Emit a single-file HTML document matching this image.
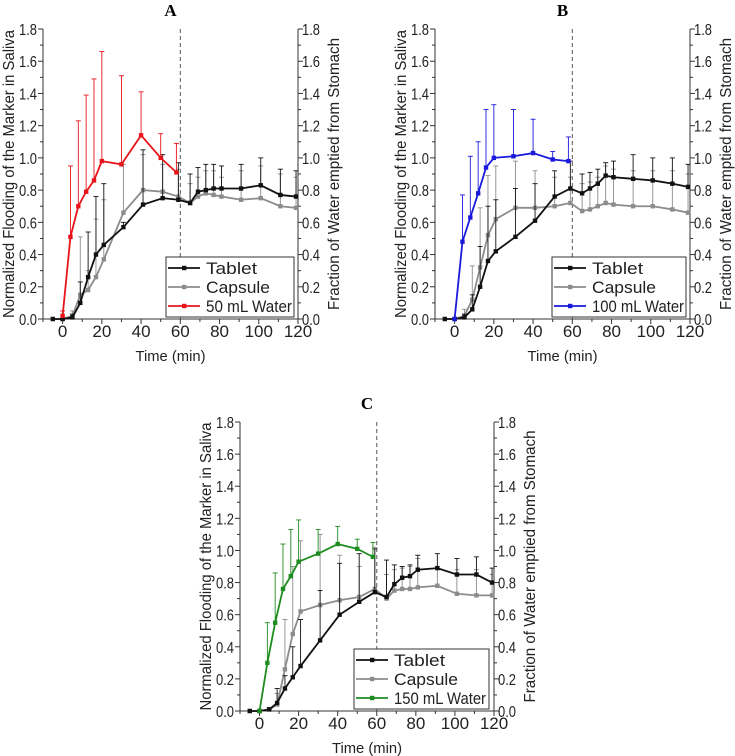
<!DOCTYPE html>
<html><head><meta charset="utf-8"><style>
body{margin:0;background:#fff;width:735px;height:756px;overflow:hidden}
svg{position:absolute;left:0;top:0}
text{font-family:"Liberation Sans",Arial,sans-serif;fill:#222}
.ttl{font-family:"Liberation Serif",serif;font-weight:bold;font-size:17px;fill:#000}
</style></head><body>
<svg id="chart" width="735" height="756"></svg>
<script>
const times=[-5,0,5,9,13,17,21,31,41,51,59,65,69,73,77,81,91,101,111,119];
const waterTimes=[0,4,8,12,16,20,30,40,50,58];
const yTicks=[0,0.2,0.4,0.6,0.8,1.0,1.2,1.4,1.6,1.8];
const xTicks=[0,20,40,60,80,100,120];
// Panel A
const tabletA=[0,0,0.01,0.10,0.26,0.40,0.46,0.57,0.71,0.75,0.74,0.72,0.79,0.80,0.81,0.81,0.81,0.83,0.77,0.76];
const tabletAUp=[0,0,0.03,0.23,0.54,0.76,0.84,0.60,1.05,1.02,0.97,0.90,0.94,0.96,0.96,0.95,0.96,1.0,0.93,0.92];
const capsuleA=[0,0,0.02,0.15,0.18,0.26,0.37,0.66,0.80,0.79,0.76,0.72,0.76,0.78,0.77,0.76,0.74,0.75,0.70,0.69];
const capsuleAUp=[0,0,0.05,0.51,0.30,0.62,0.74,0.96,1.02,0.96,0.93,0.84,0.88,0.92,0.92,0.88,0.92,0.95,0.90,0.88];
const waterA=[0.02,0.51,0.70,0.79,0.86,0.98,0.96,1.14,1.0,0.91];
const waterAUp=[0.05,0.95,1.23,1.39,1.49,1.66,1.51,1.41,1.15,1.09];
// Panel B
const tabletB=[0,0,0.01,0.06,0.20,0.36,0.42,0.51,0.61,0.76,0.81,0.78,0.81,0.84,0.89,0.88,0.87,0.86,0.84,0.82];
const tabletBUp=[0,0,0.03,0.15,0.45,0.70,0.74,0.81,0.84,0.92,0.98,0.90,0.91,0.93,0.97,0.98,1.02,1.0,1.0,0.96];
const capsuleB=[0,0,0.02,0.12,0.32,0.52,0.62,0.69,0.69,0.70,0.72,0.67,0.68,0.70,0.72,0.71,0.70,0.70,0.68,0.66];
const capsuleBUp=[0,0,0.06,0.33,0.69,0.89,0.95,0.98,0.92,0.88,0.88,0.84,0.85,0.88,0.95,0.93,0.92,0.92,0.92,0.90];
const waterB=[0,0.48,0.63,0.78,0.94,1.0,1.01,1.03,0.99,0.98];
const waterBUp=[0,0.77,1.01,1.10,1.30,1.33,1.30,1.24,1.04,1.13];
// Panel C
const tabletC=[0,0,0.01,0.05,0.14,0.21,0.28,0.44,0.60,0.68,0.74,0.71,0.79,0.83,0.84,0.88,0.89,0.85,0.85,0.80];
const tabletCUp=[0,0,0.02,0.14,0.22,0.40,0.57,0.75,0.92,0.98,1.01,0.94,0.91,0.90,0.91,0.97,0.98,0.95,0.96,0.89];
const capsuleC=[0,0,0.01,0.04,0.26,0.48,0.62,0.66,0.69,0.71,0.76,0.70,0.75,0.76,0.76,0.77,0.78,0.73,0.72,0.72];
const capsuleCUp=[0,0,0.02,0.11,0.57,0.90,1.06,1.10,0.97,0.90,1.02,0.85,0.88,0.89,0.90,0.95,0.90,0.88,0.88,0.85];
const waterC=[0,0.30,0.55,0.76,0.84,0.93,0.98,1.04,1.01,0.96];
const waterCUp=[0,0.55,0.86,1.04,1.13,1.19,1.13,1.15,1.07,1.05];

const NS='http://www.w3.org/2000/svg';
const svg=document.getElementById('chart');
function mk(tag,attrs,parent){const e=document.createElementNS(NS,tag);for(const k in attrs)e.setAttribute(k,attrs[k]);(parent||svg).appendChild(e);return e;}

function panel(p){
  const g=mk('g',{});
  
  
  const X=t=>p.L+(t+10)/130*(p.R-p.L);
  const Y=v=>p.B-v/1.8*(p.B-p.T);
  const t=mk('text',{x:(p.L+p.R)/2,y:p.T-13,'text-anchor':'middle',class:'ttl'},g);t.textContent=p.id;
  
  
  const ax=mk('path',{d:`M${p.L},${p.T}V${p.B}H${p.R}V${p.T}`,fill:'none',stroke:'#333','stroke-width':1},g);
  
  
  for(let i=0;i<=18;i++){const v=i/10,y=Y(v),len=i%2==0?5:3;
    mk('line',{x1:p.L-len,x2:p.L,y1:y,y2:y,stroke:'#333'},g);
    mk('line',{x1:p.R,x2:p.R+len,y1:y,y2:y,stroke:'#333'},g);}
  yTicks.forEach(v=>{const y=Y(v);
    const a=mk('text',{x:p.L-24,y:y+6,'font-size':'16px',textLength:18,lengthAdjust:'spacingAndGlyphs'},g);a.textContent=v.toFixed(1);
    
    
    const b=mk('text',{x:p.R+4,y:y+6,'font-size':'16px',textLength:18,lengthAdjust:'spacingAndGlyphs'},g);b.textContent=v.toFixed(1);
    
    });
  for(let tt=-10;tt<=120;tt+=10){const x=X(tt);mk('line',{x1:x,x2:x,y1:p.B,y2:p.B+(tt%20==0?5:3),stroke:'#333'},g);}
  xTicks.forEach(tt=>{const a=mk('text',{x:X(tt),y:p.B+18,'text-anchor':'middle','font-size':'17px'},g);a.textContent=tt;
    
    });
  const xl=mk('text',{x:(p.L+p.R)/2,y:p.B+42,'text-anchor':'middle','font-size':'15px',textLength:70,lengthAdjust:'spacingAndGlyphs'},g);xl.textContent='Time (min)';
  
  
  const cy=(p.T+p.B)/2;
  const yl=mk('text',{x:0,y:0,'text-anchor':'middle','font-size':'15.5px',textLength:288,lengthAdjust:'spacingAndGlyphs',transform:`translate(${p.L-29},${cy}) rotate(-90)`},g);yl.textContent='Normalized Flooding of the Marker in Saliva';
  
  
  const yr=mk('text',{x:0,y:0,'text-anchor':'middle','font-size':'15.5px',textLength:272,lengthAdjust:'spacingAndGlyphs',transform:`translate(${p.R+41},${cy}) rotate(-90)`},g);yr.textContent='Fraction of Water emptied from Stomach';
  
  
  const dl=mk('line',{x1:X(60),x2:X(60),y1:p.T,y2:p.B,stroke:'#555','stroke-dasharray':'4,3'},g);
  
  
  function series(ts,vals,ups,col,name){
    const sg=mk('g',{},g);
    
    
    ts.forEach((tt,i)=>{if(ups[i]>vals[i]){const x=X(tt);
      mk('line',{x1:x,x2:x,y1:Y(vals[i]),y2:Y(ups[i]),stroke:col,'stroke-width':0.9},sg);
      mk('line',{x1:x-2.5,x2:x+2.5,y1:Y(ups[i]),y2:Y(ups[i]),stroke:col,'stroke-width':0.9},sg);}});
    mk('polyline',{points:ts.map((tt,i)=>X(tt)+','+Y(vals[i])).join(' '),fill:'none',stroke:col,'stroke-width':1.8},sg);
    ts.forEach((tt,i)=>{const r=mk('rect',{x:X(tt)-2.2,y:Y(vals[i])-2.2,width:4.4,height:4.4,fill:col},sg);
      
      });
  }
  series(times,p.cap,p.capUp,'#8c8c8c','capsule-series');
  series(times,p.tab,p.tabUp,'#111','tablet-series');
  series(waterTimes,p.w,p.wUp,p.wc,'water-series');
  const lg=mk('g',{},g);
  
  
  mk('rect',{x:p.lx,y:p.ly,width:p.lw,height:60,fill:'#fff',stroke:'#333'},lg);
  [['Tablet','#111',51],['Capsule','#8c8c8c',64],[p.wl,p.wc,p.wlen]].forEach((e,i)=>{const y=p.ly+11+i*19;
    const eg=mk('g',{},lg);
    
    
    mk('line',{x1:p.lx+2,x2:p.lx+34,y1:y,y2:y,stroke:e[1],'stroke-width':1.8},eg);
    mk('rect',{x:p.lx+16,y:y-2.2,width:4.4,height:4.4,fill:e[1]},eg);
    const tx=mk('text',{x:p.lx+40,y:y+6,'font-size':'16.5px',textLength:e[2],lengthAdjust:'spacingAndGlyphs'},eg);tx.textContent=e[0];});
}
panel({id:'A',L:43,R:298,T:29,B:319,tab:tabletA,tabUp:tabletAUp,cap:capsuleA,capUp:capsuleAUp,w:waterA,wUp:waterAUp,wc:'#e8141a',wl:'50 mL Water',wlen:86,lx:166,ly:257,lw:128});
panel({id:'B',L:435,R:690,T:29,B:319,tab:tabletB,tabUp:tabletBUp,cap:capsuleB,capUp:capsuleBUp,w:waterB,wUp:waterBUp,wc:'#1a1adc',wl:'100 mL Water',wlen:92,lx:552,ly:257,lw:134});
panel({id:'C',L:240,R:494,T:422,B:711,tab:tabletC,tabUp:tabletCUp,cap:capsuleC,capUp:capsuleCUp,w:waterC,wUp:waterCUp,wc:'#1f8c1f',wl:'150 mL Water',wlen:92,lx:354,ly:649,lw:135});
</script>
</body></html>
